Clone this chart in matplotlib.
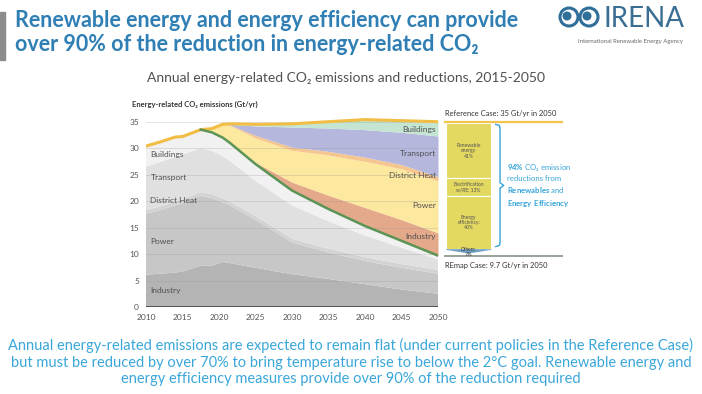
import numpy as np
import matplotlib
matplotlib.use('Agg')
import matplotlib.pyplot as plt
from matplotlib.patches import Rectangle, Circle, Polygon

plt.rcParams['font.family'] = ['Lato', 'DejaVu Sans']

# ---- data (Gt CO2 / yr) ----
years = [2010, 2012, 2014, 2015, 2017.5, 2019, 2020.5, 2021.5, 2025, 2030, 2035, 2040, 2045, 2050]

# REmap case, by sector (layer thickness)
remap_industry = [6.1, 6.3, 6.5, 6.7, 7.8, 7.8, 8.5, 8.3, 7.4, 6.2, 5.3, 4.3, 3.3, 2.5]
remap_power = [11.5, 12.0, 12.7, 12.9, 13.2, 12.8, 11.3, 10.9, 9.1, 6.0, 5.0, 4.4, 4.1, 3.8]
remap_heat = [0.7, 0.7, 0.7, 0.7, 0.7, 0.7, 0.7, 0.7, 0.7, 0.7, 0.7, 0.7, 0.7, 0.7]
remap_transport = [8.2, 8.4, 8.5, 8.5, 8.3, 8.2, 8.0, 7.7, 6.6, 6.3, 5.2, 4.1, 3.1, 2.0]
remap_buildings = [3.9, 3.8, 3.7, 3.4, 3.5, 3.5, 3.5, 3.4, 3.2, 2.8, 2.3, 1.8, 1.3, 0.7]

# reductions vs reference case, by sector (wedge thickness)
cut_industry = [0, 0, 0, 0, 0, 0, 0, 0, 0.3, 1.6, 2.6, 3.5, 4.0, 4.3]
cut_power = [0, 0, 0, 0, 0, 0.7, 2.5, 3.3, 4.6, 6.0, 7.6, 8.7, 9.6, 9.8]
cut_heat = [0, 0, 0, 0, 0, 0, 0, 0.1, 0.5, 0.6, 0.7, 0.8, 0.8, 0.8]
cut_transport = [0, 0, 0, 0, 0, 0, 0, 0.1, 1.8, 3.8, 4.4, 5.2, 6.1, 7.7]
cut_buildings = [0, 0, 0, 0, 0, 0, 0, 0.1, 0.3, 0.6, 1.2, 1.9, 2.2, 2.7]

reference_total = [30.4, 31.2, 32.1, 32.2, 33.5, 33.7, 34.5, 34.6, 34.5, 34.6, 35.0, 35.4, 35.2, 35.0]

sectors = ['Industry', 'Power', 'District Heat', 'Transport', 'Buildings']
left_label_y = [3.2, 12.3, 20.2, 24.4, 28.9]
right_label_y = [13.3, 19.1, 24.9, 29.0, 33.6]

# reduction split in 2050 (%)
split_names = ['Renewable\nenergy\n41%', 'Electrification\nw/RE: 13%', 'Energy\nefficiency:\n40%', 'Others:\n6%']
split_share = [41, 13, 40, 6]
ref_2050 = 35.0
remap_2050 = 9.7

grey_cols = ['#b4b4b4', '#c7c7c7', '#d3d3d3', '#e0e0e0', '#f1f1f1']
wedge_cols = ['#e4a98a', '#fce89e', '#f6c690', '#b5b7dd', '#c4e5d2']
blue = '#35a4d8'

fig = plt.figure(figsize=(7.02, 3.94), dpi=100)
W, H = 702, 394

# header
fig.patches.append(Rectangle((0, 1 - 60 / H), 5 / W, 48 / H, transform=fig.transFigure,
                             color='#8c8c8c'))
fig.text(15 / W, 1 - 10 / H,
         'Renewable energy and energy efficiency can provide\nover 90% of the reduction in energy-related CO\u2082',
         fontsize=15.5, fontweight='bold', color='#2f7fb5', va='top', ha='left', linespacing=1.15)

# IRENA logo
ax_logo = fig.add_axes([558 / W, 1 - 30 / H, 44 / W, 26 / H])
ax_logo.set_xlim(0, 44)
ax_logo.set_ylim(0, 26)
ax_logo.axis('off')
for cx in (11, 31):
    ax_logo.add_patch(Circle((cx, 13), 9, facecolor='white', edgecolor='#2f6f98', lw=2.2))
    ax_logo.add_patch(Circle((cx - 2, 14), 4.5, facecolor='#2f6f98', edgecolor='none'))
fig.text(603 / W, 1 - 19 / H, 'IRENA', fontsize=20, color='#3a6e93', va='center', ha='left')
fig.text(630 / W, 1 - 41 / H, 'International Renewable Energy Agency', fontsize=4.3,
         color='#666666', va='center', ha='center')

fig.text(346 / W, 1 - 78 / H, 'Annual energy-related CO\u2082 emissions and reductions, 2015-2050',
         fontsize=10, color='#505050', ha='center', va='center')

# main axes
ax = fig.add_axes([146 / W, 87 / H, 292 / W, 36 * 5.294 / H])
ax.set_xlim(2010, 2050)
ax.set_ylim(0, 36)

remap_layers = [remap_industry, remap_power, remap_heat, remap_transport, remap_buildings]
ax.stackplot(years, remap_layers, colors=grey_cols, lw=0, zorder=1)
remap_total = np.sum(remap_layers, axis=0)

bottom = remap_total.copy()
for vals, col in zip([cut_industry, cut_power, cut_heat, cut_transport, cut_buildings], wedge_cols):
    top = bottom + np.array(vals)
    ax.fill_between(years, bottom, top, color=col, lw=0, zorder=1)
    bottom = top

for v in range(5, 40, 5):
    ax.axhline(v, color='#8f8f8f', lw=0.5, alpha=0.35, zorder=2)
ax.axhline(0, color='#4a4a4a', lw=2, zorder=4)

ax.plot(years, reference_total, color='#f2bd45', lw=2.2, zorder=5)
ax.plot(years[4:], remap_total[4:], color='#5b9455', lw=1.8, zorder=5)

for name, ly, ry in zip(sectors, left_label_y, right_label_y):
    ax.text(2010.6, ly, name, fontsize=6, color='#505050', va='center', ha='left', zorder=6)
    ax.text(2049.7, ry, name, fontsize=6, color='#505050', va='center', ha='right', zorder=6)

for s in ax.spines.values():
    s.set_visible(False)
ax.set_yticks(range(0, 40, 5))
ax.set_xticks(range(2010, 2055, 5))
ax.tick_params(length=0, labelsize=6, colors='#555555', pad=5)

fig.text(132 / W, 1 - 104 / H, 'Energy-related CO\u2082 emissions (Gt/yr)', fontsize=5.5,
         fontweight='bold', color='#333333', va='center', ha='left')

# right panel: split of the 2050 reduction
bx0, bx1 = 2051.1, 2057.3
ax.plot([2051.0, 2067.0], [ref_2050, ref_2050], color='#f2c64a', lw=1.6, clip_on=False)
ax.plot([2051.0, 2067.0], [remap_2050, remap_2050], color='#98a398', lw=1.4, clip_on=False)
ax.text(2051.0, ref_2050 + 1.5, 'Reference Case: 35 Gt/yr in 2050', fontsize=5.4,
        color='#333333', va='center', ha='left')
ax.text(2051.0, remap_2050 - 1.8, 'REmap Case: 9.7 Gt/yr in 2050', fontsize=5.4,
        color='#333333', va='center', ha='left')

gap = ref_2050 - remap_2050
seg_top = ref_2050 - 0.3
for i, (name, share) in enumerate(zip(split_names, split_share)):
    h = gap * share / 100
    y0 = seg_top - h
    if i < 3:
        ax.add_patch(Rectangle((bx0, y0), bx1 - bx0, h, facecolor='#e3d860', edgecolor='white',
                               lw=0.8, clip_on=False))
        ax.text((bx0 + bx1) / 2, y0 + h / 2, name, fontsize=3.6, color='#555555',
                ha='center', va='center', linespacing=1.1)
    else:
        tip = remap_2050 + 0.4
        ax.add_patch(Polygon([(bx0, seg_top), (bx1, seg_top), (bx1, tip + 0.7),
                              ((bx0 + bx1) / 2, tip), (bx0, tip + 0.7)],
                             facecolor='#6f9fc4', edgecolor='none', clip_on=False))
        ax.text((bx0 + bx1) / 2, seg_top - 0.6, name, fontsize=3.4, color='#333333',
                ha='center', va='center', linespacing=1.0)
    seg_top = y0

# brace over renewables + efficiency
b_top = ref_2050 - 0.5
b_bot = ref_2050 - gap * 0.94 + 0.2
b_mid = (b_top + b_bot) / 2
bx = 2058.5
ax.plot([bx - 0.6, bx - 0.1, bx, bx, bx + 0.5, bx, bx, bx - 0.1, bx - 0.6],
        [b_top, b_top - 0.2, b_top - 0.7, b_mid + 0.5, b_mid, b_mid - 0.5, b_bot + 0.7, b_bot + 0.2, b_bot],
        color=blue, lw=1.0, clip_on=False)

plt.rcParams['mathtext.fontset'] = 'custom'
plt.rcParams['mathtext.rm'] = 'Lato'
plt.rcParams['mathtext.bf'] = 'Lato:bold'
ax.text(bx + 0.9, b_mid,
        '$\\bf{94\\%}$ CO\u2082 emission\nreductions from\n$\\bf{Renewables}$ and\n$\\bf{Energy\\ Efficiency}$',
        fontsize=5.6, color=blue, ha='left', va='center', linespacing=1.35)

# caption
fig.text(351 / W, 1 - 362 / H,
         'Annual energy-related emissions are expected to remain flat (under current policies in the Reference Case)\n'
         'but must be reduced by over 70% to bring temperature rise to below the 2\u00b0C goal. Renewable energy and\n'
         'energy efficiency measures provide over 90% of the reduction required',
         fontsize=10.5, color='#3aa7da', ha='center', va='center', linespacing=1.2)

fig.savefig('out.png', dpi=100)
